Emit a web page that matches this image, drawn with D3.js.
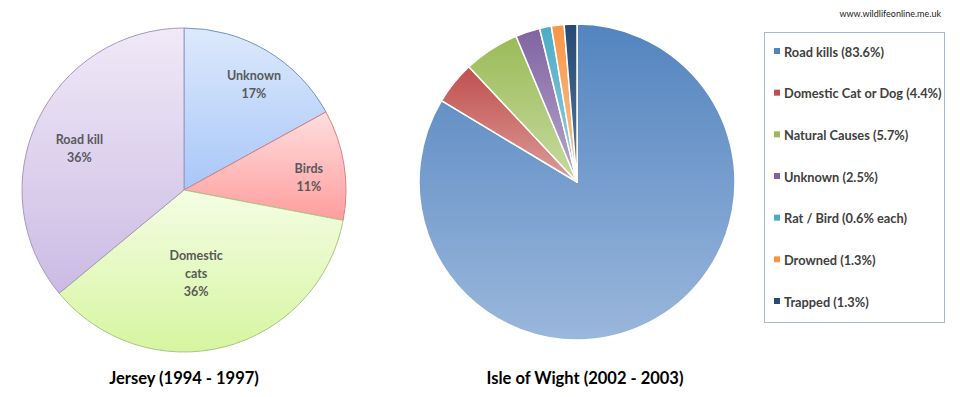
<!DOCTYPE html>
<meta charset="utf-8">
<style>
body{
  margin: 0;
  background: white;
}
text{
  font-family: Lato, "Open Sans", sans-serif;
  font-weight: bold;
}
</style>
<script src="https://d3js.org/d3.v7.min.js"></script>
<svg id="chart_svg"></svg>
<script>
// Jersey (1994 - 1997)
var jersey_names = ["Unknown", "Birds", "Domestic cats", "Road kill"]
var jersey_values = [17, 11, 36, 36]
var jersey_labels = [["Unknown", "17%"], ["Birds", "11%"], ["Domestic", "cats", "36%"], ["Road kill", "36%"]]

// Isle of Wight (2002 - 2003)
var wight_names = ["Road kills", "Domestic Cat or Dog", "Natural Causes", "Unknown", "Rat / Bird", "Drowned", "Trapped"]
var wight_values = [83.6, 4.4, 5.7, 2.5, 1.2, 1.3, 1.3]
var wight_legend = ["Road kills (83.6%)", "Domestic Cat or Dog (4.4%)", "Natural Causes (5.7%)", "Unknown (2.5%)",
  "Rat / Bird (0.6% each)", "Drowned (1.3%)", "Trapped (1.3%)"]

var svg_width = 960, svg_height = 397
var svg = d3.select("#chart_svg").attr("width", svg_width).attr("height", svg_height)
var defs = svg.append("defs")

// gradient colours: [top, bottom, stroke]
var jersey_cols = [["#dde9fc", "#a8c7f8", "#6f93c8"], ["#ffdede", "#ff9d9d", "#d98080"],
                   ["#f4fde4", "#d6f5a0", "#a8c880"], ["#f0e9f7", "#cbbbe4", "#a796c2"]]
var wight_cols = [["#5384bf", "#9ab7dc"], ["#c0504d", "#dc9c9a"], ["#9bbb59", "#c7da9f"], ["#8064a2", "#b6a7cb"],
                  ["#4bacc6", "#98d0e0"], ["#f79646", "#fbc496"], ["#264a74", "#58789e"]]

function addGradient(id, top, bottom){
  var g = defs.append("linearGradient").attr("id", id)
    .attr("x1", 0).attr("y1", 0).attr("x2", 0).attr("y2", 1)
  g.append("stop").attr("offset", "0%").attr("stop-color", top)
  g.append("stop").attr("offset", "100%").attr("stop-color", bottom)
}

var pie = d3.pie().sort(null).value(d => d)

// left pie
var jx = 184, jy = 190, jr = 162
var jersey_arc = d3.arc().innerRadius(0).outerRadius(jr)
var label_pos = [0.8, 0.78, 0.5, 0.7] // radial position of each label, fraction of radius
var label_nudge = [[4, 2], [0, 3], [-8, 1], [-2, 2]]
var jg = svg.append("g").attr("transform", "translate(" + jx + "," + jy + ")")
var jarcs = pie(jersey_values)
jarcs.forEach(function(d, i){ addGradient("jgrad" + i, jersey_cols[i][0], jersey_cols[i][1]) })
jg.selectAll("path").data(jarcs).enter().append("path")
  .attr("d", jersey_arc)
  .attr("fill", (d, i) => "url(#jgrad" + i + ")")
  .attr("stroke", (d, i) => jersey_cols[i][2])
  .attr("stroke-width", 1)

jarcs.forEach(function(d, i){
  var r = jr * label_pos[i]
  var c = d3.arc().innerRadius(r).outerRadius(r).centroid(d)
  c[0] += label_nudge[i][0]
  c[1] += label_nudge[i][1]
  var lines = jersey_labels[i]
  var t = jg.append("text").attr("text-anchor", "middle")
    .attr("fill", "#595959").style("font-size", "12.5px")
  lines.forEach(function(l, k){
    t.append("tspan").attr("x", c[0]).attr("y", c[1] + (k - (lines.length - 1) / 2) * 18 + 9).text(l)
  })
})

svg.append("text").attr("x", jx).attr("y", 384).attr("text-anchor", "middle")
  .attr("fill", "black").style("font-size", "16.5px").text("Jersey (1994 - 1997)")

// right pie
var wx = 577, wy = 182, wr = 158
var wight_arc = d3.arc().innerRadius(0).outerRadius(wr)
var wg = svg.append("g").attr("transform", "translate(" + wx + "," + wy + ")")
var warcs = pie(wight_values)
warcs.forEach(function(d, i){ addGradient("wgrad" + i, wight_cols[i][0], wight_cols[i][1]) })
wg.selectAll("path").data(warcs).enter().append("path")
  .attr("d", wight_arc)
  .attr("fill", (d, i) => "url(#wgrad" + i + ")")
  .attr("stroke", "white")
  .attr("stroke-width", 1.5)
  .attr("stroke-linejoin", "round")

svg.append("text").attr("x", 585).attr("y", 384).attr("text-anchor", "middle")
  .attr("fill", "black").style("font-size", "16.5px").text("Isle of Wight (2002 - 2003)")

// legend
var legend = svg.append("g")
legend.append("rect").attr("x", 764.5).attr("y", 32.5).attr("width", 180).attr("height", 290)
  .attr("fill", "white").attr("stroke", "#a4b9dc").attr("stroke-width", 1)
var ly = d3.scalePoint().domain(wight_names).range([52, 302])
wight_names.forEach(function(n, i){
  legend.append("rect").attr("x", 774).attr("y", ly(n) - 4).attr("width", 6).attr("height", 6)
    .attr("fill", wight_cols[i][0])
  legend.append("text").attr("x", 784).attr("y", ly(n) + 4.5)
    .attr("fill", "#404040").style("font-size", "12.8px").text(wight_legend[i])
})

svg.append("text").attr("x", 941).attr("y", 17).attr("text-anchor", "end")
  .attr("fill", "#222").style("font-size", "9px").style("font-weight", "normal")
  .text("www.wildlifeonline.me.uk")
</script>
